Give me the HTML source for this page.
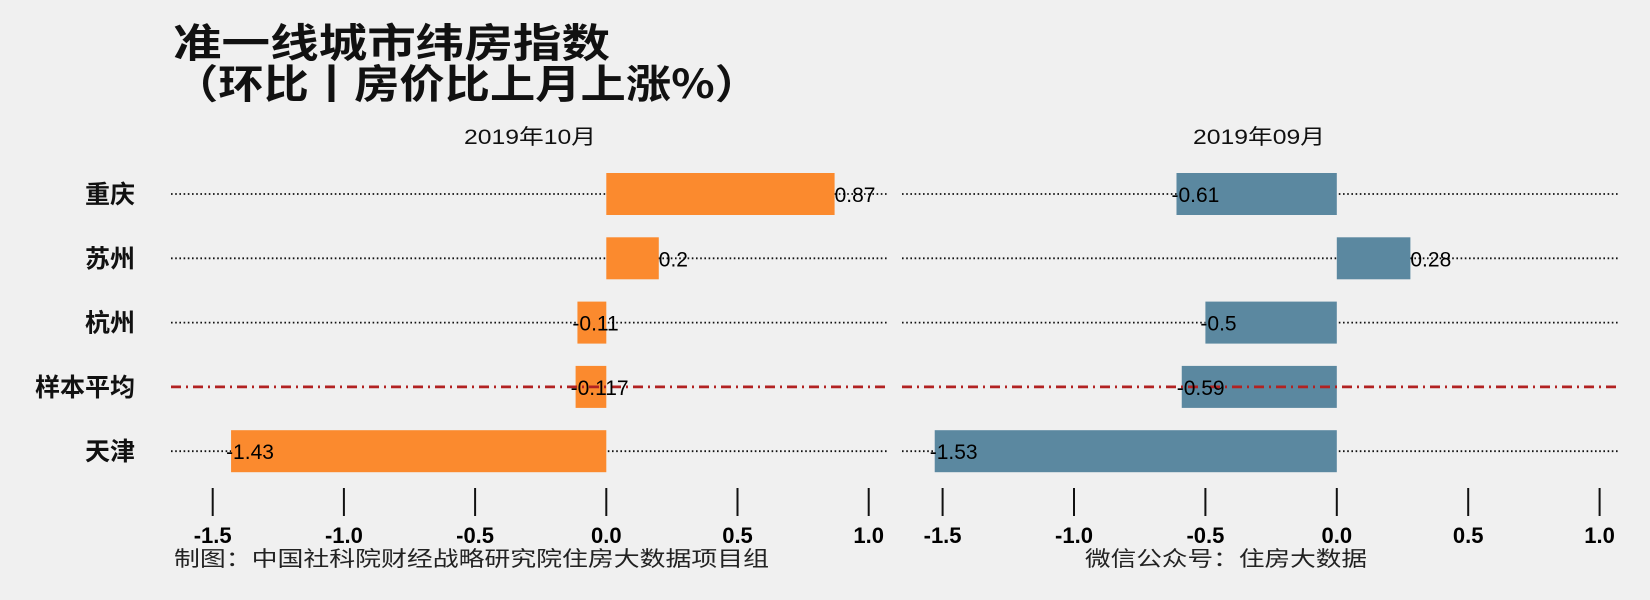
<!DOCTYPE html>
<html><head><meta charset="utf-8">
<style>
body{margin:0;background:#f0f0f0;}
svg{display:block;}
</style></head>
<body>
<svg width="1650" height="600" viewBox="0 0 1650 600" xmlns="http://www.w3.org/2000/svg">
<rect width="1650" height="600" fill="#f0f0f0"/>
<g font-family="'Noto Sans CJK SC', 'Noto Serif CJK SC', sans-serif" font-weight="bold" fill="#111">
<text x="173" y="57" font-size="40" textLength="437" lengthAdjust="spacingAndGlyphs">准一线城市纬房指数</text>
<text x="173" y="98" font-size="40" textLength="587" lengthAdjust="spacingAndGlyphs">（环比丨房价比上月上涨%）</text>
</g>
<g id="plot"></g>
<text x="174" y="566" font-size="21" textLength="595" lengthAdjust="spacingAndGlyphs" fill="#222" font-family="'Liberation Sans','Noto Sans CJK SC',sans-serif">制图：中国社科院财经战略研究院住房大数据项目组</text>
<text x="1085" y="566" font-size="21" textLength="282" lengthAdjust="spacingAndGlyphs" fill="#222" font-family="'Liberation Sans','Noto Sans CJK SC',sans-serif">微信公众号：住房大数据</text>
</svg>
<script>
const categories = ["重庆","苏州","杭州","样本平均","天津"];
const panelTitles = ["2019年10月","2019年09月"];
const octValues = [0.87, 0.2, -0.11, -0.117, -1.43];
const sepValues = [-0.61, 0.28, -0.5, -0.59, -1.53];
const tickValues = [-1.5, -1.0, -0.5, 0.0, 0.5, 1.0];
const tickLabels = ["-1.5","-1.0","-0.5","0.0","0.5","1.0"];
const avgLabel = "样本平均";

const NS = "http://www.w3.org/2000/svg";
const plot = document.getElementById('plot');
function mk(tag, attrs, parent){const e=document.createElementNS(NS,tag);for(const k in attrs)e.setAttribute(k,attrs[k]);(parent||plot).appendChild(e);return e;}
const panels = [
  {x0:171, x1:887, zero:606.3, unit:262.4, color:"#fb8a2e", values:octValues, title:panelTitles[0], titleX:530},
  {x0:902, x1:1618, zero:1336.8, unit:262.8, color:"#5b88a0", values:sepValues, title:panelTitles[1], titleX:1259}
];
function yPos(i){return 194 + i*64.3;}
const fam = "'Liberation Sans','Noto Sans CJK SC',sans-serif";

categories.forEach((c,i)=>{
  const t=mk('text',{x:135,y:yPos(i)+9,'text-anchor':'end','font-size':25,'font-weight':'bold','font-family':"'Noto Sans CJK SC','Noto Serif CJK SC',sans-serif",fill:'#111'});
  
  
  t.textContent=c;
});

panels.forEach((p,pi)=>{
  const xs=v=>p.zero+v*p.unit;
  const g=mk('g',{});
  
  
  const tt=mk('text',{x:p.titleX-66,y:144,'font-size':21,textLength:132,lengthAdjust:'spacingAndGlyphs','font-family':fam,fill:'#111'},g);
  
  
  tt.textContent=p.title;
  categories.forEach((c,i)=>{
    if(c===avgLabel) return;
    const l=mk('line',{x1:p.x0,x2:p.x1,y1:yPos(i),y2:yPos(i),stroke:'#111','stroke-width':1.8,'stroke-dasharray':'1.6 2.6'},g);
    
    
  });
  p.values.forEach((v,i)=>{
    const x=Math.min(xs(0),xs(v)),w=Math.abs(xs(v)-xs(0));
    const r=mk('rect',{x:x,y:yPos(i)-21,width:w,height:42,fill:p.color},g);
    
    
  });
  categories.forEach((c,i)=>{
    if(c!==avgLabel) return;
    const l=mk('line',{x1:p.x0,x2:p.x1,y1:yPos(i),y2:yPos(i),stroke:'#b22222','stroke-width':2.8,'stroke-dasharray':'10 5 2 5'},g);
    
    
  });
  p.values.forEach((v,i)=>{
    const t=mk('text',{x:xs(v)-(v<0?5:0),y:yPos(i)+8,'font-size':21,'font-family':fam,fill:'#000'},g);
    
    
    t.textContent=String(v);
  });
  tickValues.forEach((v,k)=>{
    const l=mk('line',{x1:xs(v),x2:xs(v),y1:488,y2:516,stroke:'#111','stroke-width':2},g);
    
    
    const t=mk('text',{x:xs(v),y:543,'text-anchor':'middle','font-size':22,'font-weight':'bold','font-family':fam,fill:'#000'},g);
    
    
    t.textContent=tickLabels[k];
  });
});
</script>
</body></html>
